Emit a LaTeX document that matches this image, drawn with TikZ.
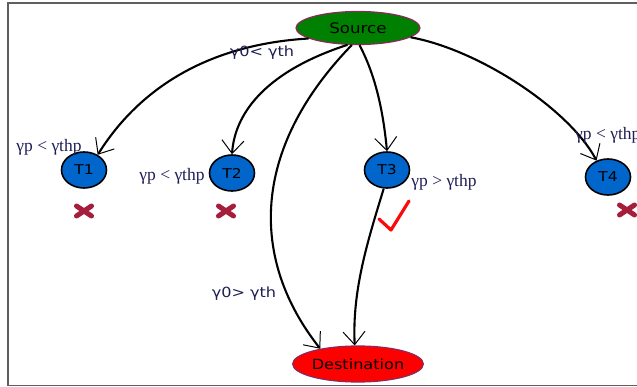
\documentclass[tikz,border=0pt]{standalone}
\usepackage{fontspec}
\usetikzlibrary{shapes.geometric,arrows.meta}
\newfontfamily\nodefont[FakeStretch=1.15]{DejaVu Sans}
\newfontfamily\serlab{Liberation Serif}
\definecolor{srcgreen}{RGB}{0,128,0}
\definecolor{dstred}{RGB}{255,0,0}
\definecolor{tblue}{RGB}{0,102,204}
\definecolor{ellborder}{RGB}{140,40,90}
\definecolor{crossred}{RGB}{165,30,60}
\definecolor{checkred}{RGB}{250,10,10}
\definecolor{labnavy}{RGB}{30,30,85}
\definecolor{framegray}{RGB}{95,95,95}
\tikzset{
  bigell/.style={ellipse, inner sep=0pt, minimum width=124pt, minimum height=33pt, draw=ellborder, line width=1.2pt, font=\nodefont\fontsize{14.5}{14.5}\selectfont},
  tnode/.style={ellipse, inner sep=0pt, minimum width=45pt, minimum height=36pt, draw=black, line width=1.6pt, fill=tblue, font=\nodefont\fontsize{13.5}{13.5}\selectfont},
  link/.style={line width=2.1pt, -{Straight Barb[length=13pt, width=22pt, line width=1pt]}},
  serlabel/.style={text=labnavy, inner sep=0pt, font=\serlab\fontsize{17.5}{17.5}\selectfont},
  sanlabel/.style={text=labnavy, inner sep=0pt, font=\nodefont\fontsize{14}{14}\selectfont},
  crossmark/.style={draw=crossred, line width=5pt, line cap=round},
  checkmark/.style={draw=checkred, line width=3.2pt, line cap=round, line join=round}
}
\begin{document}
\begin{tikzpicture}[x=1pt,y=-1pt]
\useasboundingbox (0,0) rectangle (637,387);
\draw[framegray, line width=1.6pt] (640,3) -- (8,3) -- (8,385.5) -- (640,385.5);
% nodes
\node[bigell, fill=srcgreen] (S) at (358,28) {Source};
\node[bigell, fill=dstred, minimum height=36pt, font=\nodefont\fontsize{14}{14}\selectfont] (D) at (358,364) {Destination};
\node[tnode] (T1) at (84,170) {T1};
\node[tnode] (T2) at (232,173) {T2};
\node[tnode] (T3) at (387,170) {T3};
\node[tnode] (T4) at (608,177) {T4};
% connectors
\draw[link] (S.192) .. controls (200,45) and (135,95) .. (T1.48);
\draw[link] (S.238) .. controls (270,70) and (235,110) .. (T2.north);
\draw[link] (S.250) .. controls (250,150) and (250,260) .. (D.158);
\draw[link] (S.275) .. controls (378,80) and (384,120) .. (T3.north);
\draw[link] (S.-10) .. controls (480,50) and (570,110) .. (T4.125);
\draw[link] (T3.260) .. controls (368,240) and (352,290) .. (D.100);
% labels
\node[sanlabel] (L0) at (262,53) {γ0< γth};
\node[sanlabel] (L5) at (244,294) {γ0> γth};
\node[serlabel] (L1) at (49,147) {γp < γthp};
\node[serlabel] (L2) at (172,176) {γp < γthp};
\node[serlabel] (L3) at (444,182) {γp > γthp};
\node[serlabel, anchor=west] (L4) at (575,135) {γp < γthp};
% crosses
\foreach \cx/\cy in {84/211, 226/211, 627/210}{
  \draw[crossmark] (\cx-7.5,\cy-5) -- (\cx+7.5,\cy+5);
  \draw[crossmark] (\cx-7.5,\cy+5) -- (\cx+7.5,\cy-5);
}
% check
\draw[checkmark] (379,219) -- (391,230) -- (409,201);
\end{tikzpicture}
\end{document}
